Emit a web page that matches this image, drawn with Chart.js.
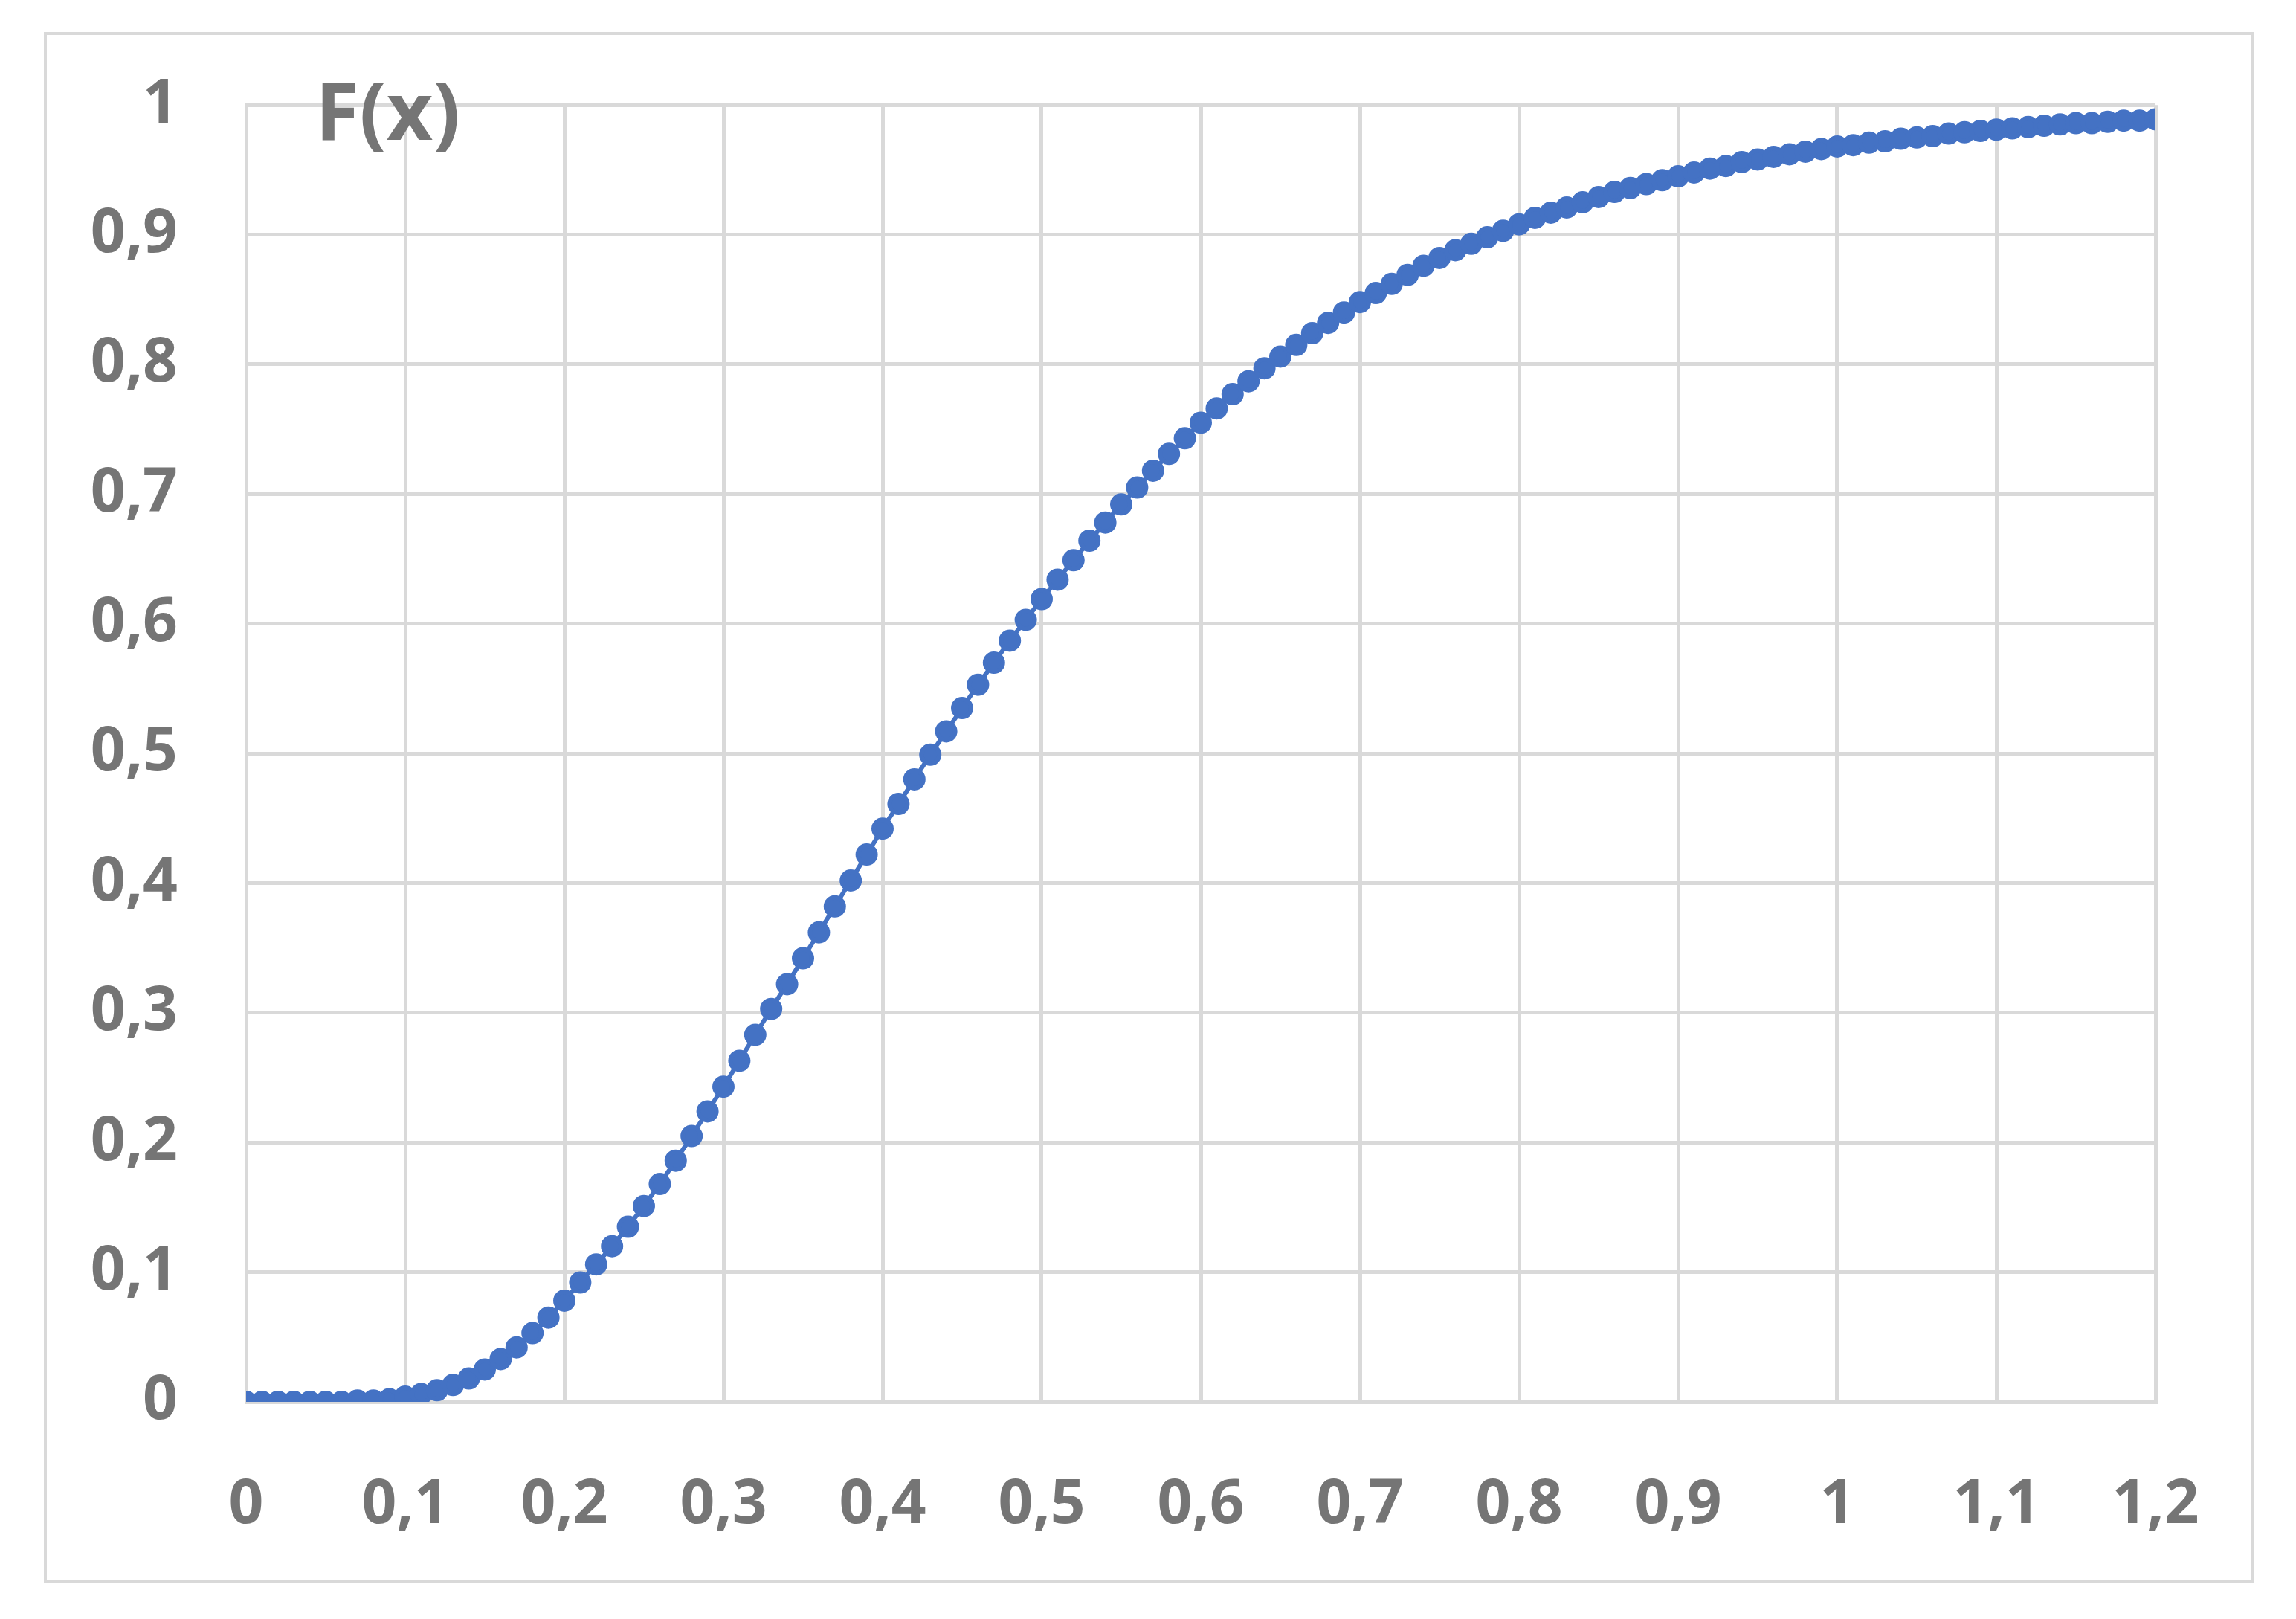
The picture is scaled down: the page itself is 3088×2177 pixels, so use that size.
<!DOCTYPE html>
<html><head><meta charset="utf-8">
<script src="https://cdn.jsdelivr.net/npm/chart.js@4"></script>
<style>
html,body{margin:0;padding:0;background:#fff;}
#wrap{position:relative;width:3088px;height:2177px;}
#border{position:absolute;left:59px;top:43px;width:2972px;height:2086px;border:4px solid #d9d9d9;box-sizing:border-box;}
canvas{position:absolute;left:0;top:0;}
</style></head><body>
<div id="wrap"><div id="border"></div><canvas id="c" width="3088" height="2177"></canvas></div>
<script>
const xValues = [];
for (let i = 0; i <= 120; i++) xValues.push(i / 100);
const fValues = [0,0,0,0,0,0,0,0.001,0.001,0.002,0.004,0.006,0.009,0.013,0.018,0.025,0.033,0.042,0.053,0.065,
0.078,0.092,0.106,0.12,0.135,0.151,0.168,0.186,0.205,0.224,0.243,0.263,0.283,0.303,0.322,0.342,0.362,0.382,0.402,0.422,
0.442,0.461,0.48,0.499,0.517,0.535,0.553,0.57,0.587,0.603,0.619,0.634,0.649,0.664,0.678,0.692,0.705,0.718,0.731,0.743,
0.755,0.766,0.777,0.787,0.797,0.806,0.815,0.824,0.832,0.84,0.848,0.855,0.862,0.869,0.876,0.882,0.888,0.893,0.898,0.903,
0.908,0.913,0.917,0.921,0.925,0.929,0.933,0.936,0.939,0.942,0.945,0.948,0.951,0.953,0.956,0.958,0.96,0.962,0.964,0.966,
0.968,0.969,0.971,0.972,0.974,0.975,0.976,0.978,0.979,0.98,0.981,0.982,0.983,0.984,0.985,0.986,0.986,0.987,0.988,0.988,0.989];
const titleText = "F(x)";
const gray = "#757575";
const fmt = v => (Math.round(v*10)/10).toString().replace('.', ',');
const titlePlugin = {id:'t', afterDraw(ch){const c=ch.ctx;c.save();c.font='bold 108px "Open Sans"';c.fillStyle=gray;c.textBaseline='alphabetic';c.fillText(titleText,424,188);c.restore();}};
new Chart(document.getElementById('c'), {
  type:'line',
  data:{datasets:[{data:xValues.map((x,i)=>({x:x,y:fValues[i]})),borderColor:'#4472c4',backgroundColor:'#4472c4',borderWidth:6,pointRadius:12,pointHoverRadius:12,tension:0}]},
  options:{responsive:false,animation:false,devicePixelRatio:1,
    layout:{padding:{left:0,top:114,right:189,bottom:0}},
    plugins:{legend:{display:false},tooltip:{enabled:false}},
    scales:{
      x:{type:'linear',min:0,max:1.2,afterFit(a){a.height=292;},
        grid:{color:'#d9d9d9',lineWidth:5,drawTicks:false},border:{color:'#d9d9d9',width:5},
        ticks:{stepSize:0.1,padding:90,color:gray,font:{family:'Open Sans',weight:'bold',size:82},callback:v=>fmt(v),maxRotation:0,autoSkip:false}},
      y:{min:0,max:1,afterFit(a){a.width=331;},
        grid:{color:'#d9d9d9',lineWidth:5,drawTicks:false},border:{color:'#d9d9d9',width:5},
        ticks:{stepSize:0.1,padding:92,color:gray,font:{family:'Open Sans',weight:'bold',size:82},callback:v=>fmt(v)}}
    }},
  plugins:[titlePlugin]
});
</script></body></html>
